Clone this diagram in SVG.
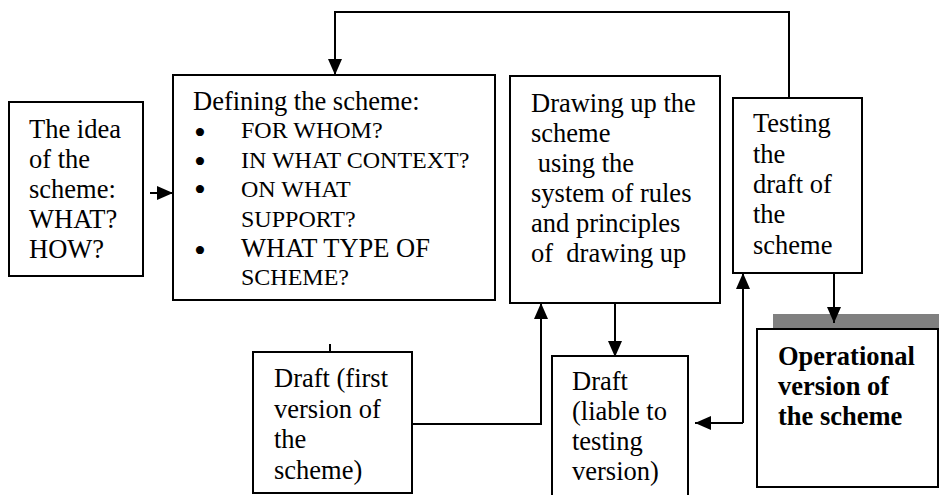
<svg xmlns="http://www.w3.org/2000/svg" width="939" height="495" viewBox="0 0 939 495" font-family="Liberation Serif, Times New Roman, serif" font-size="26.5">
<style>
.box{fill:#fff;stroke:#000;stroke-width:2}
.ln{fill:none;stroke:#000;stroke-width:2}
</style>
<defs>
<marker id="ah" markerUnits="userSpaceOnUse" markerWidth="16" markerHeight="14" refX="16" refY="7" orient="auto">
<path d="M0,0 L16,7 L0,14 z" fill="#000"/>
</marker>
</defs>
<g id="idea">
<rect class="box" x="9" y="102" width="134" height="174"/>
<text x="29" y="138">The idea</text>
<text x="29" y="168">of the</text>
<text x="29" y="198">scheme:</text>
<text x="29" y="228">WHAT?</text>
<text x="29" y="258">HOW?</text>
</g>
<g id="defining">
<rect class="box" x="173" y="75" width="322" height="225"/>
<text x="193" y="110">Defining the scheme:</text>
<text x="194" y="144" font-size="34">•</text>
<text x="241" y="138" font-size="24">FOR WHOM?</text>
<text x="194" y="173" font-size="34">•</text>
<text x="241" y="168" font-size="24">IN WHAT CONTEXT?</text>
<text x="194" y="201" font-size="34">•</text>
<text x="241" y="197" font-size="24">ON WHAT</text>
<text x="241" y="227" font-size="24">SUPPORT?</text>
<text x="194" y="262" font-size="34">•</text>
<text x="241" y="257">WHAT TYPE OF</text>
<text x="241" y="285" font-size="24">SCHEME?</text>
</g>
<g id="drawing">
<rect class="box" x="510" y="76" width="210" height="227"/>
<text x="531" y="112">Drawing up the</text>
<text x="531" y="142">scheme</text>
<text x="531" y="172" xml:space="preserve"> using the</text>
<text x="531" y="202">system of rules</text>
<text x="531" y="232">and principles</text>
<text x="531" y="262" xml:space="preserve">of  drawing up</text>
</g>
<g id="testing">
<rect class="box" x="733" y="98" width="129" height="175"/>
<text x="753" y="132">Testing</text>
<text x="753" y="163">the</text>
<text x="753" y="193">draft of</text>
<text x="753" y="223">the</text>
<text x="753" y="254">scheme</text>
</g>
<g id="draft-first">
<rect class="box" x="253" y="352" width="159" height="141"/>
<text x="274" y="387">Draft (first</text>
<text x="274" y="418">version of</text>
<text x="274" y="448">the</text>
<text x="274" y="479">scheme)</text>
</g>
<g id="draft-liable">
<path class="ln" d="M552,496 V356 H688 V496"/>
<text x="572" y="390">Draft</text>
<text x="572" y="420">(liable to</text>
<text x="572" y="450">testing</text>
<text x="572" y="480">version)</text>
</g>
<g id="operational">
<rect x="773" y="314" width="166" height="15" fill="#808080"/>
<rect class="box" x="757" y="329" width="181" height="158"/>
<text x="778" y="365" font-weight="bold">Operational</text>
<text x="778" y="395" font-weight="bold">version of</text>
<text x="778" y="425" font-weight="bold">the scheme</text>
</g>
<g id="connectors">
<path class="ln" d="M789,98 V12 H335 V75" marker-end="url(#ah)"/>
<path class="ln" d="M150,193 H173" marker-end="url(#ah)"/>
<path class="ln" d="M330,344 V352"/>
<path class="ln" d="M412,424 H541 V303" marker-end="url(#ah)"/>
<path class="ln" d="M615,303 V357" marker-end="url(#ah)"/>
<path class="ln" d="M743,423 V273" marker-end="url(#ah)"/>
<path class="ln" d="M743,423 H695" marker-end="url(#ah)"/>
<path class="ln" d="M834,273 V323" marker-end="url(#ah)"/>
</g>
</svg>
